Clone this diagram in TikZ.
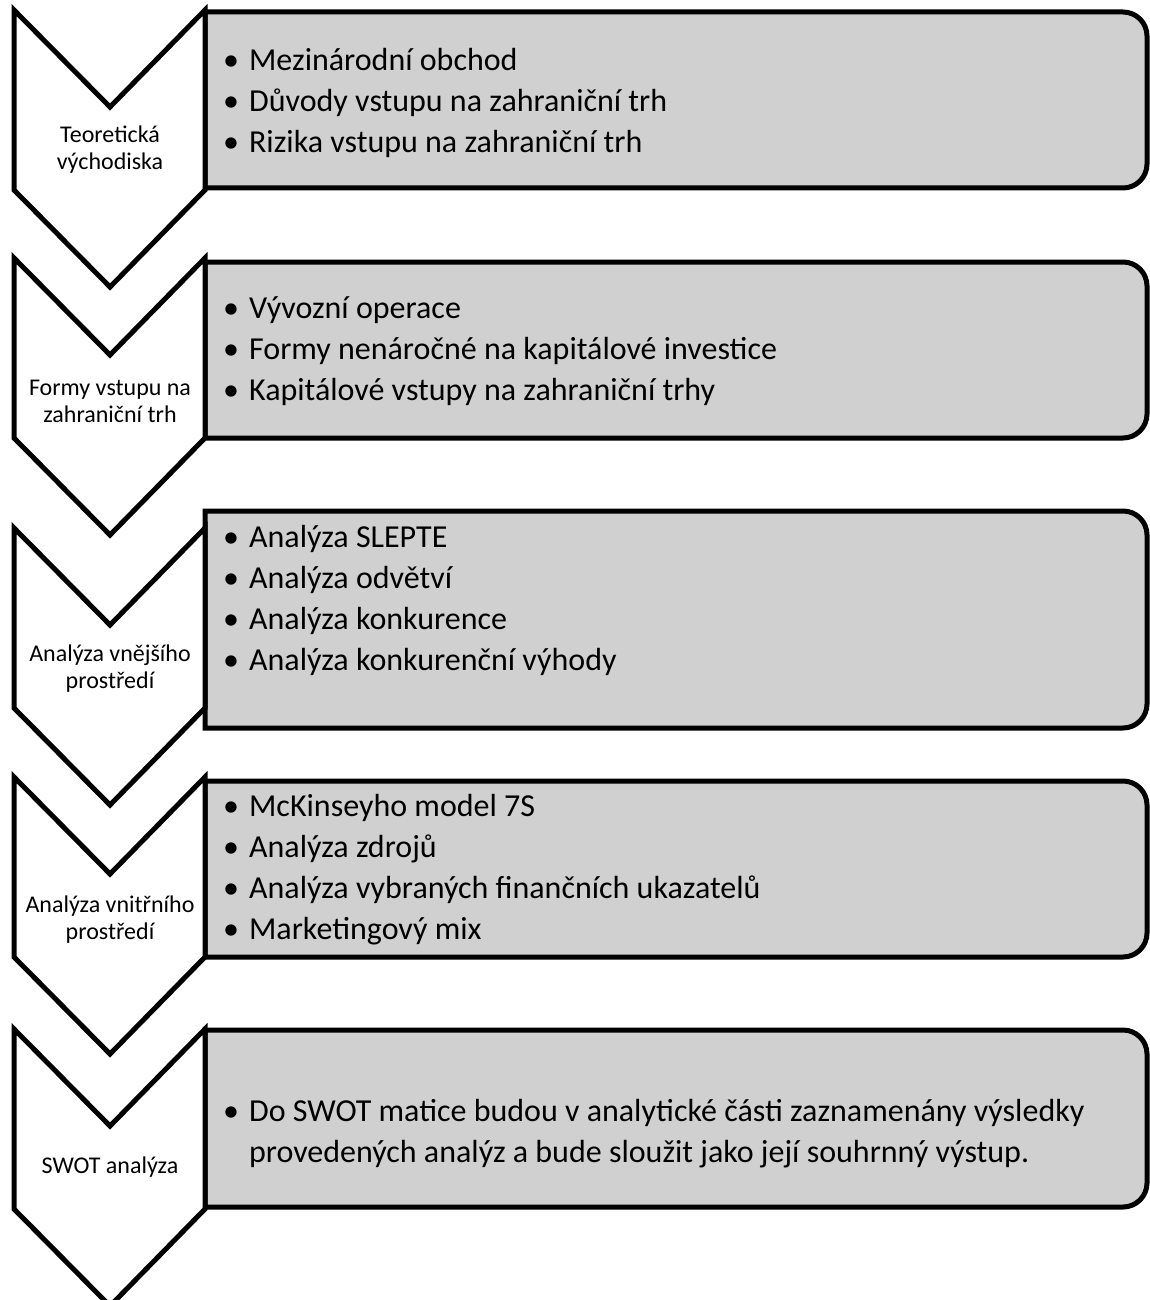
\documentclass[tikz,border=0pt]{standalone}
\usepackage{fontspec}
\setmainfont{Carlito}
\usetikzlibrary{positioning, calc}
\definecolor{stagegray}{HTML}{D0D0D0}
\newcommand{\bulletlist}[1]{\begin{tabular}[t]{@{}l@{\hspace{10pt}}l@{}}#1\end{tabular}}

\begin{document}
\begin{tikzpicture}[x=1pt, y=1pt,
    line join=miter,
    chevron/.style={draw, line width=5pt, fill=white},
    topicbox/.style={draw, line width=5pt, fill=stagegray},
    stagelabel/.style={align=center, font=\fontsize{24}{27}\selectfont},
    topiclist/.style={anchor=base west, inner sep=0pt, font=\fontsize{32}{41}\selectfont}
]

\useasboundingbox (0,0) rectangle (1149,-1300);

% 1. Graue Boxen (oben/unten), rechts abgerundet
\foreach \t/\b in {12/188, 262/438, 511/728, 781/957, 1030/1207} {
  \draw[topicbox] (205,-\t) -- (1123,-\t) arc[start angle=90, end angle=0, radius=24]
       -- (1147,-\b+24) arc[start angle=0, end angle=-90, radius=24] -- (205,-\b) -- cycle;
}

% 2. Pfeile (Chevrons) links, liegen ueber den Boxen
\foreach \t in {10, 258, 528, 777, 1029} {
  \draw[chevron] (14,-\t) -- (110,-\t-97) -- (205,-\t) -- (205,-\t-180)
       -- (110,-\t-277) -- (14,-\t-180) -- cycle;
}

% 3. Beschriftung der Phasen
\node[stagelabel] (s1) at (110,-150) {Teoretická\\východiska};
\node[stagelabel] (s2) at (110,-401) {Formy vstupu na\\zahraniční trh};
\node[stagelabel] (s3) at (110,-669) {Analýza vnějšího\\prostředí};
\node[stagelabel] (s4) at (110,-920) {Analýza vnitřního\\prostředí};
\node[stagelabel] (s5) at (110,-1167) {SWOT analýza};

% 4. Inhalte der Boxen
\node[topiclist] (l1) at (223,-71) {\bulletlist{
  • & Mezinárodní obchod\\
  • & Důvody vstupu na zahraniční trh\\
  • & Rizika vstupu na zahraniční trh}};
\node[topiclist] (l2) at (223,-318) {\bulletlist{
  • & Vývozní operace\\
  • & Formy nenáročné na kapitálové investice\\
  • & Kapitálové vstupy na zahraniční trhy}};
\node[topiclist] (l3) at (223,-547) {\bulletlist{
  • & Analýza SLEPTE\\
  • & Analýza odvětví\\
  • & Analýza konkurence\\
  • & Analýza konkurenční výhody}};
\node[topiclist] (l4) at (223,-816) {\bulletlist{
  • & McKinseyho model 7S\\
  • & Analýza zdrojů\\
  • & Analýza vybraných finančních ukazatelů\\
  • & Marketingový mix}};
\node[topiclist] (l5) at (223,-1121) {\bulletlist{
  • & Do SWOT matice budou v analytické části zaznamenány výsledky\\
    & provedených analýz a bude sloužit jako její souhrnný výstup.}};

\end{tikzpicture}
\end{document}
